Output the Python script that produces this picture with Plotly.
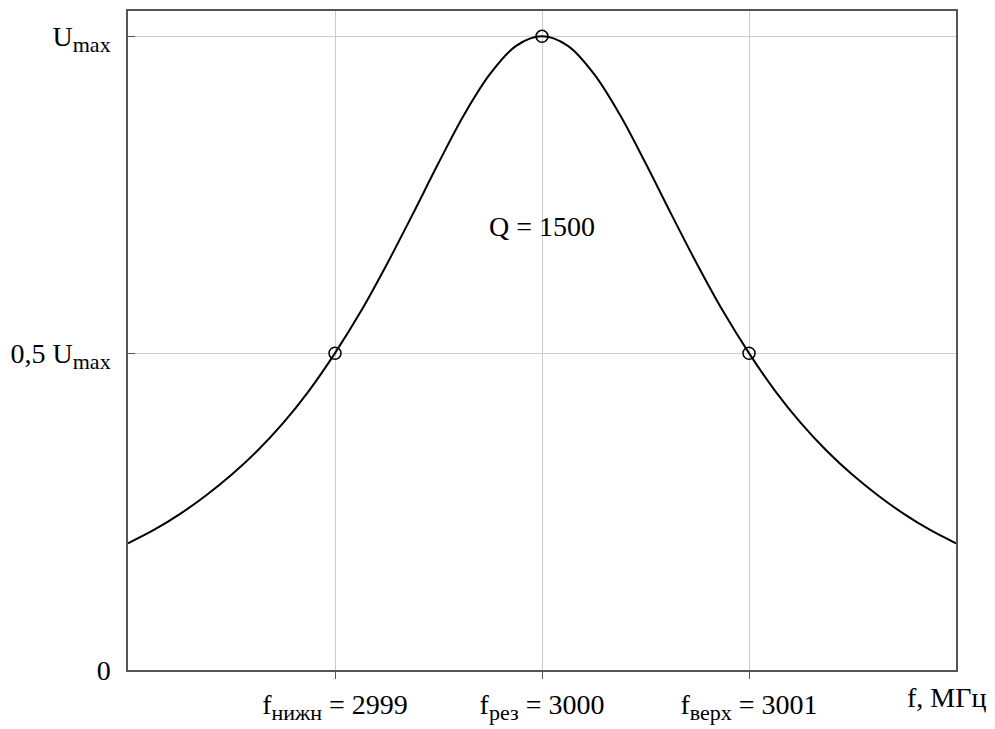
import plotly.graph_objects as go

# Frequency (MHz) and relative amplitude
freq = [2998.0, 2998.125, 2998.25, 2998.375, 2998.5, 2998.625, 2998.75, 2998.875,
        2999.0, 2999.125, 2999.25, 2999.375, 2999.5, 2999.625, 2999.75, 2999.875,
        3000.0, 3000.125, 3000.25, 3000.375, 3000.5, 3000.625, 3000.75, 3000.875,
        3001.0, 3001.125, 3001.25, 3001.375, 3001.5, 3001.625, 3001.75, 3001.875,
        3002.0]
amp = [0.200, 0.221, 0.246, 0.275, 0.308, 0.346, 0.390, 0.441,
       0.500, 0.566, 0.640, 0.719, 0.800, 0.877, 0.941, 0.985,
       1.000, 0.985, 0.941, 0.877, 0.800, 0.719, 0.640, 0.566,
       0.500, 0.441, 0.390, 0.346, 0.308, 0.275, 0.246, 0.221,
       0.200]

# Marked points
mark_f = [2999, 3000, 3001]
mark_u = [0.5, 1.0, 0.5]

SUB = '<sub><span style="font-size:22px">{}</span></sub>'
x_tickvals = [2999, 3000, 3001]
x_ticktext = ["f" + SUB.format("нижн") + " = 2999",
              "f" + SUB.format("рез") + " = 3000",
              "f" + SUB.format("верх") + " = 3001"]
y_tickvals = [0, 0.5, 1.0]
y_ticktext = ["0", "0,5 U" + SUB.format("max"), "U" + SUB.format("max")]

FONT = "Liberation Serif, Times New Roman, serif"
FS = 28

fig = go.Figure()
fig.add_trace(go.Scatter(x=freq, y=amp, mode="lines",
                         line=dict(color="black", width=2, shape="spline"),
                         hoverinfo="skip", showlegend=False))
fig.add_trace(go.Scatter(x=mark_f, y=mark_u, mode="markers",
                         marker=dict(symbol="circle-open", size=12,
                                     color="black", line=dict(width=1.5, color="black")),
                         showlegend=False))

fig.add_annotation(x=3000, y=0.70, text="Q = 1500", showarrow=False,
                   xanchor="center", yanchor="middle",
                   font=dict(family=FONT, size=FS, color="black"))
fig.add_annotation(xref="paper", yref="paper", x=1, y=0, text="f, МГц",
                   showarrow=False, xanchor="right", yanchor="top",
                   xshift=32, yshift=-10,
                   font=dict(family=FONT, size=FS, color="black"))

fig.update_xaxes(range=[2998, 3002], tickvals=x_tickvals, ticktext=x_ticktext,
                 showgrid=True, gridcolor="#cccccc", gridwidth=1,
                 showline=True, linecolor="#555555", linewidth=1.5, mirror=True,
                 ticks="outside", ticklen=7, tickcolor="#555555",
                 zeroline=False, ticklabelstandoff=2, automargin=False,
                 tickfont=dict(family=FONT, size=FS, color="black"))
fig.update_yaxes(range=[0, 1.04], tickvals=y_tickvals, ticktext=y_ticktext,
                 showgrid=True, gridcolor="#cccccc", gridwidth=1,
                 showline=True, linecolor="#555555", linewidth=1.5, mirror=True,
                 ticks="inside", ticklen=7, tickcolor="#555555",
                 zeroline=False, ticklabelstandoff=10, automargin=False,
                 tickfont=dict(family=FONT, size=FS, color="black"))

fig.update_layout(width=995, height=729,
                  margin=dict(l=128, r=39, t=11, b=59),
                  paper_bgcolor="white", plot_bgcolor="white",
                  font=dict(family=FONT, color="black"))

fig.write_html("out.html", config={"displayModeBar": False},
               post_script="document.body.style.margin='0';")
